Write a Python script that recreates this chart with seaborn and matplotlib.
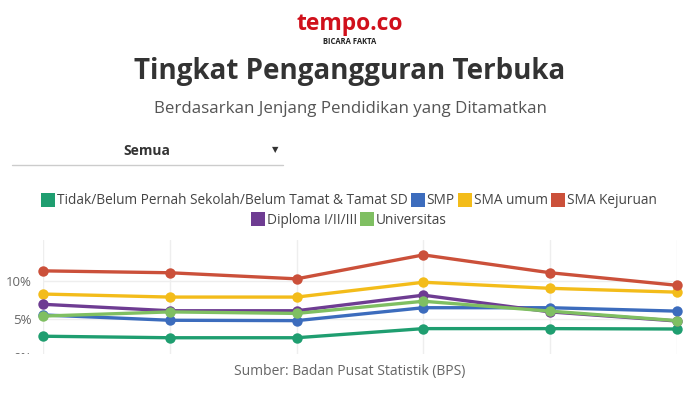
import matplotlib
matplotlib.use("Agg")
import matplotlib.pyplot as plt
import seaborn as sns
import pandas as pd
from matplotlib.lines import Line2D
from matplotlib.patches import Rectangle

# periods (x labels are not shown on the chart)
periods = ["P1", "P2", "P3", "P4", "P5", "P6"]

sd = [2.8, 2.6, 2.6, 3.8, 3.8, 3.75]
smp = [5.6, 4.9, 4.85, 6.55, 6.55, 6.1]
sma_umum = [8.35, 7.95, 7.95, 9.9, 9.1, 8.6]
smk = [11.4, 11.15, 10.35, 13.5, 11.15, 9.5]
diploma = [7.0, 6.15, 6.15, 8.2, 6.0, 4.8]
univ = [5.45, 6.0, 5.8, 7.4, 6.1, 4.85]

series_names = ["Tidak/Belum Pernah Sekolah/Belum Tamat & Tamat SD", "SMP",
                "SMA umum", "SMA Kejuruan", "Diploma I/II/III", "Universitas"]
colors = ["#1f9e70", "#3c6cbd", "#f3bc1a", "#cb503a", "#6e3c92", "#7fbf62"]

df = pd.DataFrame({"periode": periods * 6,
                   "seri": sum([[n] * 6 for n in series_names], []),
                   "nilai": sd + smp + sma_umum + smk + diploma + univ})
df["x"] = df["periode"].map({p: i for i, p in enumerate(periods)})

sns.set_theme(style="white")
plt.rcParams["font.family"] = ["Open Sans", "DejaVu Sans"]

fig = plt.figure(figsize=(7, 3.93), dpi=100)
W, H = 700, 393

# plot area: first point x=43, last x=677, 0% at y=357.5, top at y=240
ax = fig.add_axes([43 / W, (H - 357.5) / H, (677 - 43) / W, (357.5 - 240) / H])
sns.lineplot(data=df, x="x", y="nilai", hue="seri", hue_order=series_names,
             palette=colors, marker="o", markersize=7.5, markeredgewidth=0,
             linewidth=2.4, legend=False, ax=ax, clip_on=False)
ax.set_xlim(0, 5)
ax.set_ylim(0, 15.46)
ax.set_xticks(range(6))
ax.set_xticklabels([])
ax.set_yticks([0, 5, 10])
ax.set_yticklabels(["0%", "5%", "10%"], color="#666666", fontsize=9.5)
ax.tick_params(axis="y", length=0, pad=8)
ax.tick_params(axis="x", length=0)
ax.grid(True, color="#eeeeee", linewidth=1)
ax.set_xlabel("")
ax.set_ylabel("")
for s in ax.spines.values():
    s.set_visible(False)

# cut off below the plot
fig.add_artist(Rectangle((0, 0), 1, (H - 354) / H, transform=fig.transFigure,
                         facecolor="white", edgecolor="none", zorder=5))

# logo
fig.text(0.5, 1 - 24 / H, "tempo.co", ha="center", va="center", color="#d0101b",
         fontsize=16.5, fontweight="bold")
fig.text(0.5, 1 - 42 / H, "BICARA FAKTA", ha="center", va="center", color="#222222",
         fontsize=5.5, fontweight="bold")

fig.text(0.5, 1 - 72 / H, "Tingkat Pengangguran Terbuka", ha="center", va="center",
         color="#333333", fontsize=20, fontweight="bold")
fig.text(0.5, 1 - 109 / H, "Berdasarkan Jenjang Pendidikan yang Ditamatkan",
         ha="center", va="center", color="#555555", fontsize=12.2)

# dropdown
fig.text(147 / W, 1 - 151 / H, "Semua", ha="center", va="center", color="#333333",
         fontsize=10, fontweight="bold")
fig.text(275 / W, 1 - 150 / H, "\u25BC", ha="center", va="center", color="#333333",
         fontsize=6, family="DejaVu Sans")
fig.add_artist(Line2D([12 / W, 283 / W], [1 - 165 / H, 1 - 165 / H],
                      transform=fig.transFigure, color="#cccccc", linewidth=1))

# legend in two rows
def handles(idx):
    return [Line2D([], [], marker="s", linestyle="", markersize=10,
                   markerfacecolor=colors[i], markeredgewidth=0) for i in idx]

leg1 = fig.legend(handles([0, 1, 2, 3]), series_names[:4], loc="center",
                  bbox_to_anchor=(0.5, 1 - 201 / H), ncol=4, frameon=False,
                  fontsize=9.8, handlelength=0.7, handletextpad=0.3,
                  columnspacing=0.4, labelcolor="#444444")
leg2 = fig.legend(handles([4, 5]), series_names[4:], loc="center",
                  bbox_to_anchor=(0.5, 1 - 220 / H), ncol=2, frameon=False,
                  fontsize=9.8, handlelength=0.7, handletextpad=0.3,
                  columnspacing=0.4, labelcolor="#444444")

fig.text(0.5, 1 - 371 / H, "Sumber: Badan Pusat Statistik (BPS)", ha="center",
         va="center", color="#666666", fontsize=10, zorder=6)

fig.savefig("out.png", dpi=100, facecolor="white")
